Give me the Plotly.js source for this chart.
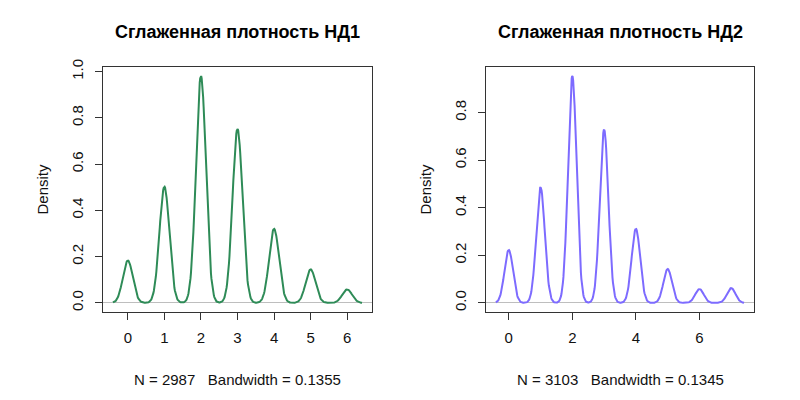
<!DOCTYPE html>
<html>
<head>
<meta charset="utf-8">
<script src="https://cdn.plot.ly/plotly-3.0.1.min.js"></script>
<style>html,body{margin:0;padding:0;background:#fff;}#chart{width:800px;height:400px;}</style>
</head>
<body>
<div id="chart"></div>
<script>
// Observed values (integer outcomes) and their counts, read from the peak heights
const values1 = [0, 1, 2, 3, 4, 5, 6];
const counts1 = [186, 510, 996, 764, 325, 147, 59];   // N = 2987
const bandwidth1 = 0.1355;
const title1 = "Сглаженная плотность НД1";

const values2 = [0, 1, 2, 3, 4, 5, 6, 7];
const counts2 = [233, 509, 998, 762, 326, 149, 61, 65]; // N = 3103
const bandwidth2 = 0.1345;
const title2 = "Сглаженная плотность НД2";

const xTicks1 = [0, 1, 2, 3, 4, 5, 6];
const xTicks2 = [0, 2, 4, 6];
const yTicks1 = [0, 0.2, 0.4, 0.6, 0.8, 1.0];
const yTicks2 = [0, 0.2, 0.4, 0.6, 0.8];

// Gaussian kernel density estimate (as R's density(), cut = 3, n = 512)
function kde(vals, counts, bw) {
  const N = counts.reduce((a, b) => a + b, 0);
  const lo = Math.min(...vals) - 3 * bw, hi = Math.max(...vals) + 3 * bw;
  const n = 512, xs = [], ys = [];
  const c = 1 / (bw * Math.sqrt(2 * Math.PI));
  for (let i = 0; i < n; i++) {
    const x = lo + (hi - lo) * i / (n - 1);
    let s = 0;
    for (let k = 0; k < vals.length; k++) {
      const z = (x - vals[k]) / bw;
      s += counts[k] / N * c * Math.exp(-0.5 * z * z);
    }
    xs.push(x); ys.push(s);
  }
  return {xs, ys, N, lo, hi};
}

const d1 = kde(values1, counts1, bandwidth1);
const d2 = kde(values2, counts2, bandwidth2);

function ext(lo, hi) { const e = (hi - lo) * 0.04; return [lo - e, hi + e]; }
const ymax1 = Math.max(...d1.ys), ymax2 = Math.max(...d2.ys);

const fontFam = "Liberation Sans, Arial, sans-serif";
const fs = 15;
const traces = [
  {x: d1.xs, y: d1.ys, type: 'scatter', mode: 'lines', line: {color: '#2E8B57', width: 2}, xaxis: 'x', yaxis: 'y', hoverinfo: 'skip'},
  {x: d2.xs, y: d2.ys, type: 'scatter', mode: 'lines', line: {color: '#7D6BFF', width: 2}, xaxis: 'x2', yaxis: 'y2', hoverinfo: 'skip'}
];

function xax(domain, range, ticks, anchor) {
  return {domain, range, anchor, tickvals: ticks, ticktext: ticks.map(String),
    ticks: 'outside', ticklen: 7, tickcolor: '#333', tickwidth: 1,
    showline: true, mirror: true, linecolor: '#333', linewidth: 1,
    showgrid: false, zeroline: false, ticklabelstandoff: 5,
    tickfont: {family: fontFam, size: fs, color: '#111'}, fixedrange: true};
}
function yax(domain, range, ticks, anchor) {
  return {domain, range, anchor, tickvals: ticks, ticktext: ticks.map(v => v.toFixed(1)),
    ticks: 'outside', ticklen: 7, tickcolor: '#333', tickwidth: 1, tickangle: -90,
    showline: true, mirror: true, linecolor: '#333', linewidth: 1,
    showgrid: false, zeroline: true, zerolinecolor: '#bebebe', zerolinewidth: 1,
    ticklabelstandoff: 6,
    tickfont: {family: fontFam, size: fs, color: '#111'}, fixedrange: true};
}

const xd1 = [103/800, 372/800], xd2 = [486/800, 754/800], yd = [1 - 312/400, 1 - 67/400];

const layout = {
  width: 800, height: 400, margin: {l: 0, r: 0, t: 0, b: 0},
  paper_bgcolor: '#fff', plot_bgcolor: '#fff', showlegend: false,
  font: {family: fontFam, color: '#111'},
  xaxis: xax(xd1, ext(d1.lo, d1.hi), xTicks1, 'y'),
  yaxis: yax(yd, ext(0, ymax1), yTicks1, 'x'),
  xaxis2: xax(xd2, ext(d2.lo, d2.hi), xTicks2, 'y2'),
  yaxis2: yax(yd, ext(0, ymax2), yTicks2, 'x2'),
  annotations: [
    {text: '<b>' + title1 + '</b>', xref: 'paper', yref: 'paper', x: (xd1[0] + xd1[1]) / 2, y: 1 - 32/400, xanchor: 'center', yanchor: 'middle', showarrow: false, font: {family: fontFam, size: 18, color: '#000'}},
    {text: '<b>' + title2 + '</b>', xref: 'paper', yref: 'paper', x: (xd2[0] + xd2[1]) / 2, y: 1 - 32/400, xanchor: 'center', yanchor: 'middle', showarrow: false, font: {family: fontFam, size: 18, color: '#000'}},
    {text: 'N = ' + d1.N + '\u00A0\u00A0\u00A0Bandwidth = ' + bandwidth1.toFixed(4), xref: 'paper', yref: 'paper', x: (xd1[0] + xd1[1]) / 2, y: 1 - 379/400, xanchor: 'center', yanchor: 'middle', showarrow: false, font: {family: fontFam, size: fs, color: '#111'}},
    {text: 'N = ' + d2.N + '\u00A0\u00A0\u00A0Bandwidth = ' + bandwidth2.toFixed(4), xref: 'paper', yref: 'paper', x: (xd2[0] + xd2[1]) / 2, y: 1 - 379/400, xanchor: 'center', yanchor: 'middle', showarrow: false, font: {family: fontFam, size: fs, color: '#111'}},
    {text: 'Density', xref: 'paper', yref: 'paper', x: 42/800, y: (yd[0] + yd[1]) / 2, xanchor: 'center', yanchor: 'middle', textangle: -90, showarrow: false, font: {family: fontFam, size: fs, color: '#111'}},
    {text: 'Density', xref: 'paper', yref: 'paper', x: 425/800, y: (yd[0] + yd[1]) / 2, xanchor: 'center', yanchor: 'middle', textangle: -90, showarrow: false, font: {family: fontFam, size: fs, color: '#111'}}
  ]
};

Plotly.newPlot('chart', traces, layout, {displayModeBar: false, staticPlot: true});
</script>
</body>
</html>
